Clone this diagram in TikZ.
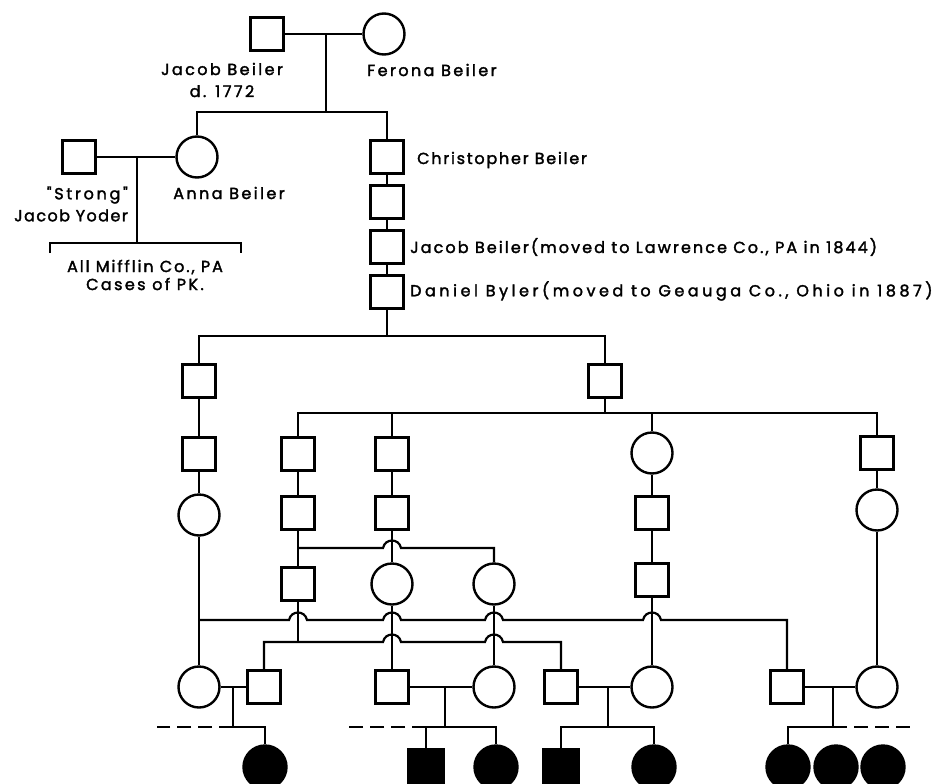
\documentclass[tikz,border=0pt]{standalone}
\usepackage{fontspec}
\newfontfamily\lblfont{Poppins}[LetterSpace=15, FakeBold=2]
\usetikzlibrary{positioning}

% a small bump where one line jumps over another
\newcommand{\hopover}[2]{-- (#1-9,#2) .. controls (#1-7,#2-10) and (#1+7,#2-10) .. (#1+9,#2)}
\newcommand{\spacing}[1]{\addfontfeatures{LetterSpace=#1}}

\begin{document}
\begin{tikzpicture}[x=1pt, y=-1pt,
    male/.style={draw, rectangle, line width=2.4pt, minimum size=33pt, inner sep=0pt},
    female/.style={draw, circle, line width=2.4pt, minimum size=41pt, inner sep=0pt},
    affm/.style={male, fill=black, minimum size=35pt},
    afff/.style={female, fill=black, minimum size=43pt},
    rel/.style={line width=2.2pt},
    lbl/.style={font=\lblfont\fontsize{16}{18}\selectfont, inner sep=0pt}]
    \useasboundingbox (0,0) rectangle (934,784);
    \clip (0,0) rectangle (934,784);

    % Jacob and Ferona
    \node[male] (jacob) at (267,34) {};
    \node[female] (ferona) at (384,34) {};
    \node[lbl, align=center] (jacobtxt) at (222,80) {Jacob Beiler\\[4pt]d. 1772};
    \node[lbl, anchor=west] (feronatxt) at (367,70) {Ferona Beiler};
    \draw[rel] (jacob) -- (ferona);
    \coordinate (jf) at (326,34);
    \coordinate (sib1) at (326,112);
    \draw[rel] (jf) -- (sib1);

    % Anna and "Strong" Jacob Yoder
    \node[male] (yoder) at (79,157) {};
    \node[female] (anna) at (197,157) {};
    \node[male] (chris) at (387,157) {};
    \draw[rel] (anna.north) |- (sib1) -| (chris.north);
    \draw[rel] (yoder) -- (anna);
    \node[lbl] (annatxt) at (229,193) {Anna Beiler};
    \node[lbl, align=right, anchor=east] (yodertxt) at (128,204) {{\spacing{17}"Strong"}\\[4pt]{\spacing{9}Jacob Yoder}};
    \coordinate (ya) at (137,157);
    \coordinate (pk) at (137,243);
    \coordinate (brl) at (50,253);
    \coordinate (brr) at (241,253);
    \draw[rel] (ya) -- (pk);
    \draw[rel] (brl) |- (pk) -| (brr);
    \node[lbl, align=center] (mifflin) at (145,275) {\spacing{12}All Mifflin Co., PA\\Cases of PK.};

    % line down to Daniel Byler
    \node[male] (c2) at (387,202) {};
    \node[male] (jacobb) at (387,247) {};
    \node[male] (daniel) at (387,292) {};
    \draw[rel] (chris) -- (c2) -- (jacobb) -- (daniel);
    \node[lbl, anchor=west] (christxt) at (417,160) {\spacing{11}Christopher Beiler};
    \node[lbl, anchor=west] (jbtxt) at (410,247) {\spacing{13}Jacob Beiler(moved to Lawrence Co., PA in 1844)};
    \node[lbl, anchor=west] (dbtxt) at (410,291) {\spacing{22}Daniel Byler(moved to Geauga Co., Ohio in 1887)};

    % Daniel's sons
    \coordinate (dd) at (387,336);
    \node[male] (la1) at (199,381) {};
    \node[male] (rb0) at (605,381) {};
    \draw[rel] (daniel) -- (dd);
    \draw[rel] (la1.north) |- (dd) -| (rb0.north);

    % left branch
    \node[male] (la2) at (199,454) {};
    \node[female] (la3) at (199,515) {};
    \node[female] (la4) at (199,687) {};
    \draw[rel] (la1) -- (la2) -- (la3) -- (la4);

    % right branch
    \coordinate (rr) at (605,413);
    \draw[rel] (rb0) -- (rr);
    \node[male] (b1) at (298,454) {};
    \node[male] (cc1) at (392,454) {};
    \node[female] (e1) at (652,453) {};
    \node[male] (f1) at (877,453) {};
    \draw[rel] (b1.north) |- (rr) -| (f1.north);
    \draw[rel] (cc1.north) -- (cc1.north |- rr);
    \draw[rel] (e1.north) -- (e1.north |- rr);

    \node[male] (b2) at (298,513) {};
    \node[male] (b3) at (298,584) {};
    \node[male] (cc2) at (392,513) {};
    \node[female] (cc3) at (392,584) {};
    \node[male] (cc4) at (392,687) {};
    \node[female] (d3) at (494,584) {};
    \node[female] (d4) at (494,687) {};
    \node[male] (e2) at (652,513) {};
    \node[male] (e3) at (652,580) {};
    \node[female] (e4) at (652,687) {};
    \node[female] (f2) at (877,510) {};
    \node[female] (f4) at (877,687) {};
    \draw[rel] (b1) -- (b2) -- (b3);
    \draw[rel] (cc1) -- (cc2) -- (cc3) -- (cc4);
    \draw[rel] (d3) -- (d4);
    \draw[rel] (e1) -- (e2) -- (e3) -- (e4);
    \draw[rel] (f1) -- (f2) -- (f4);
    \coordinate (b2s) at (298,548);
    \draw[rel] (b2s) \hopover{392}{548} -| (d3.north);

    % spouses in the last married generation
    \node[male] (s1) at (264,687) {};
    \node[male] (s2) at (561,687) {};
    \node[male] (s3) at (787,687) {};
    \coordinate (aa) at (199,620);
    \draw[rel] (aa) \hopover{298}{620} \hopover{392}{620} \hopover{494}{620} \hopover{652}{620} -| (s3.north);
    \coordinate (bb) at (298,642);
    \draw[rel] (b3) -- (bb);
    \draw[rel] (s1.north) |- (bb) \hopover{392}{642} \hopover{494}{642} -| (s2.north);
    \draw[rel] (la4) -- (s1);
    \draw[rel] (cc4) -- (d4);
    \draw[rel] (s2) -- (e4);
    \draw[rel] (s3) -- (f4);

    % affected children
    \node[afff] (k1) at (265,767) {};
    \node[affm] (k2) at (426,767) {};
    \node[afff] (k3) at (496,767) {};
    \node[affm] (k4) at (561,767) {};
    \node[afff] (k5) at (654,767) {};
    \node[afff] (k6) at (788,767) {};
    \node[afff] (k7) at (836,767) {};
    \node[afff] (k8) at (883,767) {};

    \coordinate (m1) at (233,687);
    \coordinate (sb1) at (233,727);
    \draw[rel] (m1) -- (sb1) -| (k1.north);
    \draw[rel, dash pattern=on 14pt off 7pt] (sb1) -- ++(-76,0);
    \coordinate (m2) at (445,687);
    \coordinate (sb2) at (445,727);
    \draw[rel] (m2) -- (sb2);
    \draw[rel] (k2.north) |- (sb2) -| (k3.north);
    \coordinate (sb2l) at (426,727);
    \draw[rel, dash pattern=on 14pt off 7pt] (sb2l) -- ++(-78,0);
    \coordinate (m3) at (608,687);
    \coordinate (sb3) at (608,727);
    \draw[rel] (m3) -- (sb3);
    \draw[rel] (k4.north) |- (sb3) -| (k5.north);
    \coordinate (m4) at (833,687);
    \coordinate (sb4) at (833,727);
    \draw[rel] (m4) -- (sb4);
    \draw[rel] (k6.north) |- (sb4);
    \draw[rel, dash pattern=on 14pt off 7pt] (sb4) -- ++(77,0);
\end{tikzpicture}
\end{document}
